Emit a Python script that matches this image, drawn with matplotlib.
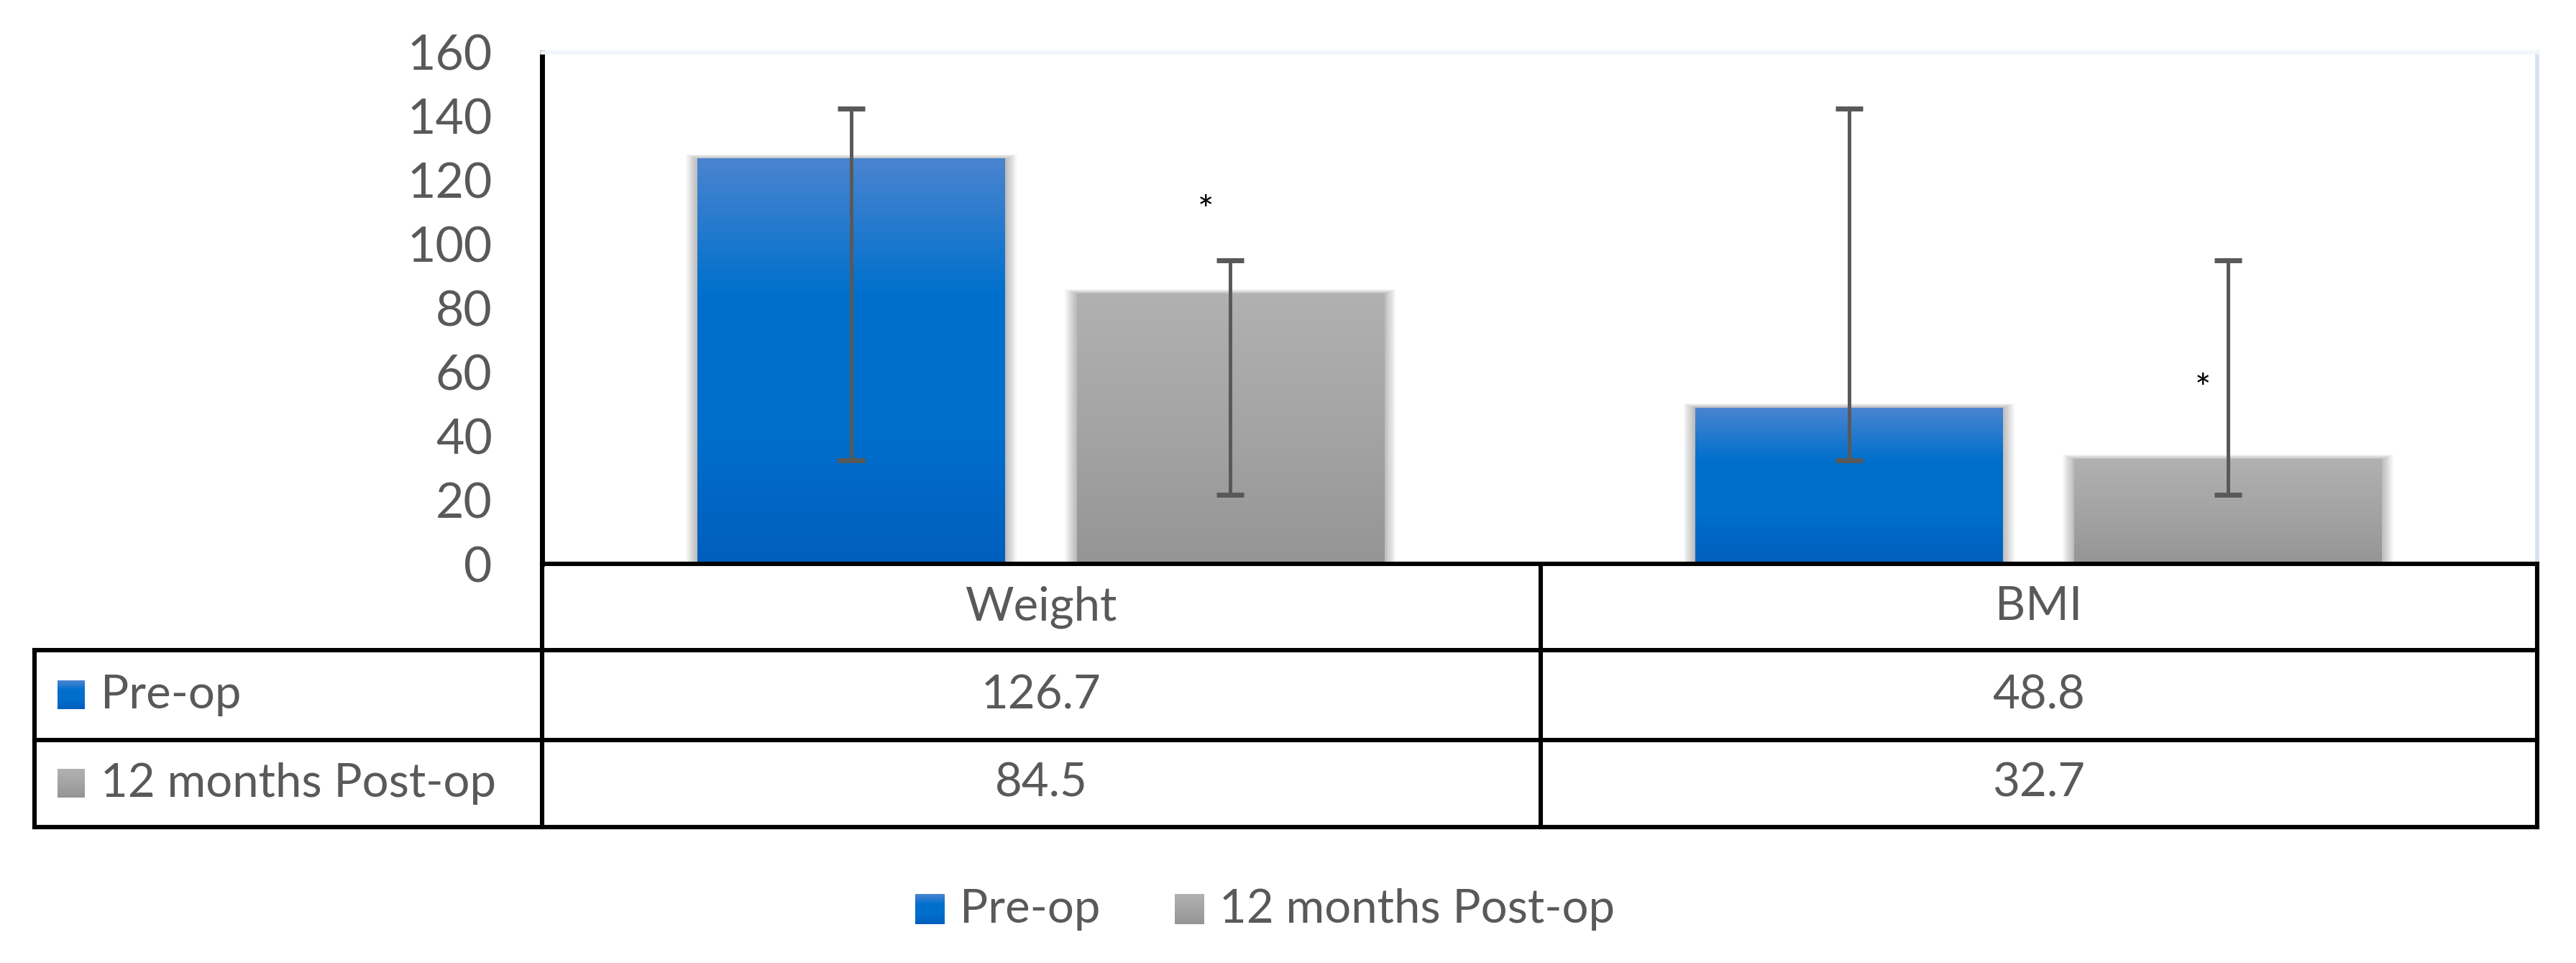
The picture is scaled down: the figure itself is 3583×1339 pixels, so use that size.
import numpy as np
import matplotlib
matplotlib.use("Agg")
import matplotlib.pyplot as plt
from matplotlib.colors import LinearSegmentedColormap
from matplotlib.patches import Rectangle
from matplotlib.lines import Line2D

plt.rcParams['font.family'] = ['Lato', 'DejaVu Sans']

categories = ['Weight', 'BMI']
series = ['Pre-op', '12 months Post-op']
pre_op = [126.7, 48.8]
post_op = [84.5, 32.7]
# error bars drawn as (low, high) ranges
pre_low = [32.5, 32.5]
pre_high = [142.5, 142.5]
post_low = [21.5, 21.5]
post_high = [95.0, 95.0]
star_y = [113, 57]
yticks = [0, 20, 40, 60, 80, 100, 120, 140, 160]

TXT = '#595959'
blue_cmap = LinearSegmentedColormap.from_list('blue', ['#005ebe', '#006fcc', '#0070cc', '#4a84d0'])
gray_cmap = LinearSegmentedColormap.from_list('gray', ['#959595', '#a4a4a4', '#b1b1b1'])

W, H = 3583, 1339
fig = plt.figure(figsize=(W / 100, H / 100), dpi=100)

# overlay in pixel coords for the data table and legend
tab = fig.add_axes([0, 0, 1, 1], zorder=0)
tab.set_xlim(0, W)
tab.set_ylim(H, 0)
tab.axis('off')

left, right, top, zero = 754, 3529, 73, 784
ax = fig.add_axes([left / W, 1 - zero / H, (right - left) / W, (zero - top) / H], zorder=1)
ax.set_facecolor('white')

x = np.arange(len(categories))
width = 0.308
off = 0.19
px_x = 1.0 / 1387
px_y = 160.0 / 711


def grad_bar(xc, h, cmap):
    x0, x1 = xc - width / 2, xc + width / 2
    # soft shadow
    for k in range(1, 10):
        ax.add_patch(Rectangle((x0 - k * 1.8 * px_x, 0), width + 2 * k * 1.8 * px_x,
                               h + k * 0.7 * px_y, color='k', alpha=0.03, lw=0, zorder=1))
    g = np.linspace(0, 1, 256).reshape(-1, 1)
    ax.imshow(g, extent=(x0, x1, 0, h), origin='lower', cmap=cmap, aspect='auto', zorder=2)


for i in range(len(categories)):
    grad_bar(x[i] - off, pre_op[i], blue_cmap)
    grad_bar(x[i] + off, post_op[i], gray_cmap)

ax.errorbar(x - off, pre_op, yerr=[np.array(pre_op) - pre_low, np.array(pre_high) - pre_op],
            fmt='none', ecolor=TXT, elinewidth=3.6, capsize=14, capthick=5, zorder=3)
ax.errorbar(x + off, post_op, yerr=[np.array(post_op) - post_low, np.array(post_high) - post_op],
            fmt='none', ecolor=TXT, elinewidth=3.6, capsize=14, capthick=5, zorder=3)

for i in range(len(categories)):
    ax.annotate('*', xy=(x[i] + off - 0.025, star_y[i]), xytext=(0, -20),
                textcoords='offset points', ha='center', va='baseline',
                fontsize=38, color='black', zorder=4)

ax.set_xlim(-0.5, 1.5)
ax.set_ylim(0, 160)
ax.set_yticks(yticks)
ax.set_xticks([])
ax.tick_params(axis='y', length=0, pad=50, labelsize=49, labelcolor=TXT)
ax.spines['left'].set_color('black')
ax.spines['left'].set_linewidth(5)
ax.spines['bottom'].set_color('black')
ax.spines['bottom'].set_linewidth(4.4)
ax.spines['top'].set_color('#f2f5fa')
ax.spines['top'].set_linewidth(4)
ax.spines['right'].set_color('#d3e0f2')
ax.spines['right'].set_linewidth(4)

# data table under the plot
col_edges = [48, left, 2143, right]
row_edges = [zero, 904, 1029, 1150]
lw = 4.4
for y in row_edges[1:]:
    tab.add_line(Line2D([col_edges[0], col_edges[-1]], [y, y], color='black', lw=lw,
                        solid_capstyle='projecting'))
tab.add_line(Line2D([col_edges[0]] * 2, [row_edges[1], row_edges[-1]], color='black', lw=lw,
                    solid_capstyle='projecting'))
for cx in col_edges[1:]:
    tab.add_line(Line2D([cx, cx], [row_edges[0], row_edges[-1]], color='black', lw=lw,
                        solid_capstyle='projecting'))

fs = 47
for j, cat in enumerate(categories):
    cx = (col_edges[j + 1] + col_edges[j + 2]) / 2
    tab.text(cx, (row_edges[0] + row_edges[1]) / 2, cat, ha='center', va='center',
             fontsize=fs, color=TXT)
    for r, vals in enumerate([pre_op, post_op]):
        tab.text(cx, (row_edges[r + 1] + row_edges[r + 2]) / 2, f'{vals[j]:.1f}',
                 ha='center', va='center', fontsize=fs, color=TXT)

g = np.linspace(0, 1, 64).reshape(-1, 1)
for r, (name, cmap) in enumerate(zip(series, [blue_cmap, gray_cmap])):
    yc = (row_edges[r + 1] + row_edges[r + 2]) / 2
    tab.imshow(g, extent=(80, 118, yc + 20, yc - 20), origin='lower', cmap=cmap, aspect='auto')
    tab.text(140, yc, name, ha='left', va='center', fontsize=fs, color=TXT)

# legend at the bottom
leg_y = 1264
leg_keys = [1273, 1634]
for kx, name, cmap in zip(leg_keys, series, [blue_cmap, gray_cmap]):
    tab.imshow(g, extent=(kx, kx + 41, leg_y + 21, leg_y - 21), origin='lower', cmap=cmap,
               aspect='auto')
    tab.text(kx + 62, leg_y, name, ha='left', va='center', fontsize=fs, color=TXT)

tab.set_xlim(0, W)
tab.set_ylim(H, 0)

fig.savefig('out.png', dpi=100, facecolor='white')
